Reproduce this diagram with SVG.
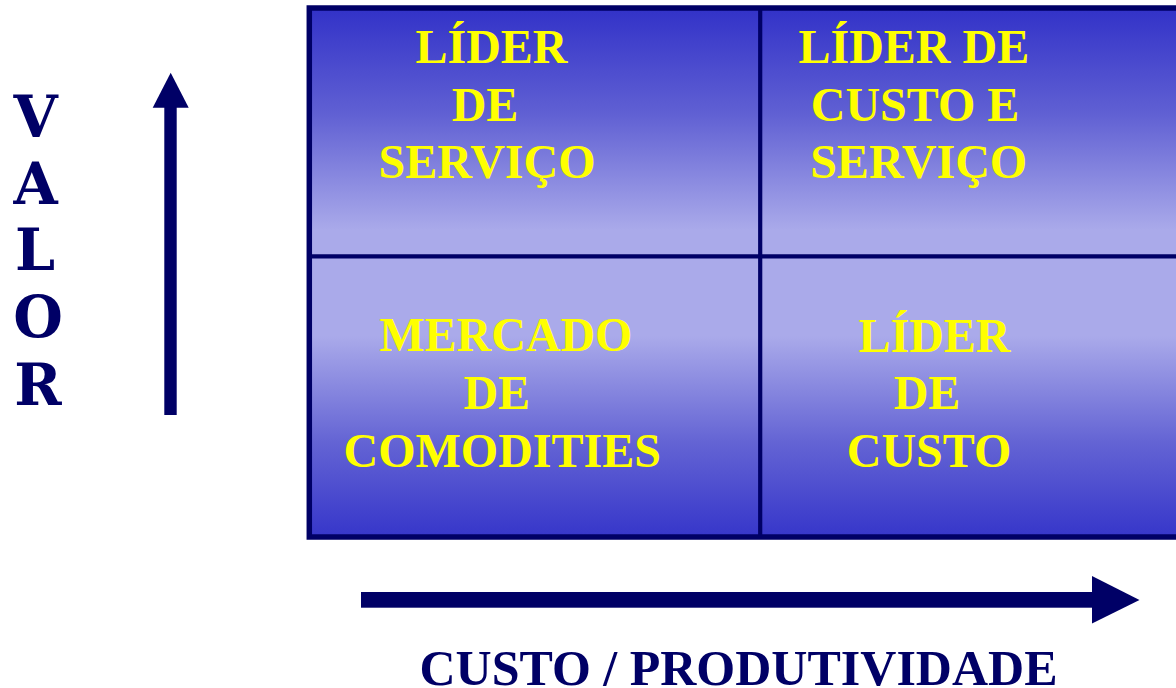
<svg xmlns="http://www.w3.org/2000/svg" width="1176" height="688" viewBox="0 0 1176 688">
  <defs>
    <linearGradient id="bg" gradientUnits="userSpaceOnUse" x1="0" y1="8" x2="0" y2="537">
      <stop offset="0" stop-color="#3232c8"/>
      <stop offset="0.2" stop-color="#6060d3"/>
      <stop offset="0.42" stop-color="#aaaaea"/>
      <stop offset="0.62" stop-color="#aaaaea"/>
      <stop offset="0.82" stop-color="#6464d4"/>
      <stop offset="1" stop-color="#3636ca"/>
    </linearGradient>
  </defs>
  <style>
    .cell { font-family: "Liberation Serif", "Times New Roman", serif; font-weight: bold; font-size: 48px; fill: #ffff00; text-anchor: middle; }
    .axis { font-family: "Liberation Serif", "Times New Roman", serif; font-weight: bold; fill: #000066; text-anchor: middle; }
    .vert { font-family: "DejaVu Serif", "Liberation Serif", serif; font-weight: bold; font-size: 57px; fill: #000066; text-anchor: middle; }
    .navy { fill: #000066; }
    .grid { stroke: #000066; }
  </style>
  <rect width="1176" height="688" fill="#ffffff"/>

  <g id="matrix">
    <rect x="309.3" y="8" width="875" height="529" fill="url(#bg)" class="grid" stroke-width="5.5"/>
    <line x1="309" y1="256.3" x2="1180" y2="256.3" class="grid" stroke-width="4.2"/>
    <line x1="760.2" y1="8" x2="760.2" y2="537" class="grid" stroke-width="4.2"/>
  </g>

  <g id="cell-lider-servico">
    <text class="cell" x="491.5" y="63.3">LÍDER</text>
    <text class="cell" x="485" y="120.8">DE</text>
    <text class="cell" x="487" y="178.3">SERVIÇO</text>
  </g>

  <g id="cell-lider-custo-servico">
    <text class="cell" x="913.8" y="63.3">LÍDER DE</text>
    <text class="cell" x="915" y="120.8">CUSTO E</text>
    <text class="cell" x="918.7" y="178.3">SERVIÇO</text>
  </g>

  <g id="cell-mercado-comodities">
    <text class="cell" x="505.8" y="351.3">MERCADO</text>
    <text class="cell" x="496.8" y="409">DE</text>
    <text class="cell" x="502.2" y="466.7">COMODITIES</text>
  </g>

  <g id="cell-lider-custo">
    <text class="cell" x="934.5" y="351.7">LÍDER</text>
    <text class="cell" x="927" y="409">DE</text>
    <text class="cell" x="929" y="466.7">CUSTO</text>
  </g>

  <g id="label-valor">
    <text class="vert" x="35.5" y="137">V</text>
    <text class="vert" x="35.5" y="203.5">A</text>
    <text class="vert" x="35" y="270">L</text>
    <text class="vert" x="38" y="337">O</text>
    <text class="vert" x="38" y="404.5">R</text>
  </g>

  <g id="label-custo">
    <text class="axis" font-size="50" x="738.5" y="685">CUSTO / PRODUTIVIDADE</text>
  </g>

  <g id="connectors">
    <rect class="navy" x="164.3" y="106" width="12.4" height="309"/>
    <polygon class="navy" points="152.7,107.7 188.7,107.7 170.7,72.7"/>
    <rect class="navy" x="361" y="592" width="733" height="15.7"/>
    <polygon class="navy" points="1092,576 1092,623.5 1139.5,600"/>
  </g>
</svg>
